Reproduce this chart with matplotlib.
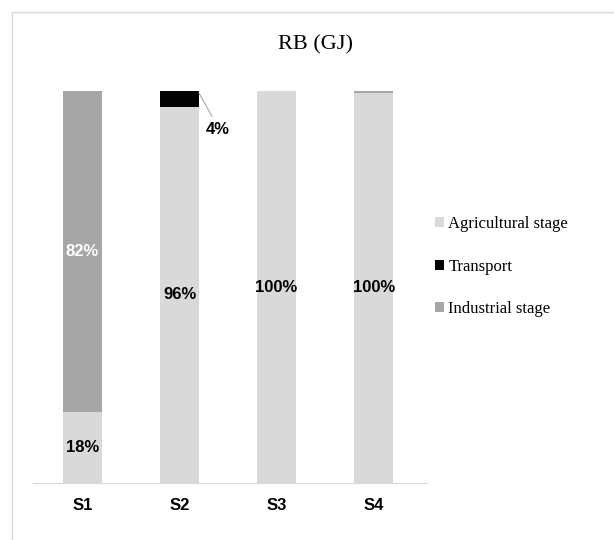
import matplotlib

matplotlib.use("Agg")
import matplotlib.pyplot as plt
from matplotlib.lines import Line2D

# stacked shares (%) per scenario
scenarios = ["S1", "S2", "S3", "S4"]
agricultural = [18, 96, 100, 99.6]
transport = [0, 4, 0, 0]
industrial = [82, 0, 0, 0.4]
label_agri = ["18%", "96%", "100%", "100%"]

C_AGRI = "#d9d9d9"
C_TRANS = "#000000"
C_IND = "#a6a6a6"

W, H = 614, 540
fig = plt.figure(figsize=(W / 100, H / 100), dpi=100)

# frame: only the top and left edges show in the crop
fig.lines.append(Line2D([12 / W, 12 / W, 1], [0, 1 - 12 / H, 1 - 12 / H],
                        transform=fig.transFigure, color="#d9d9d9", lw=1))

ax = fig.add_axes([33 / W, 57 / H, 394 / W, 392 / H])
x = list(range(len(scenarios)))
bw = 0.4
ax.bar(x, agricultural, bw, color=C_AGRI, label="Agricultural stage")
ax.bar(x, transport, bw, bottom=agricultural, color=C_TRANS, label="Transport")
bot2 = [a + t for a, t in zip(agricultural, transport)]
ax.bar(x, industrial, bw, bottom=bot2, color=C_IND, label="Industrial stage")

ax.set_xlim(-0.51, 3.55)
ax.set_ylim(0, 100)
for s in ["top", "left", "right"]:
    ax.spines[s].set_visible(False)
ax.spines["bottom"].set_color("#d9d9d9")
ax.set_yticks([])
ax.set_xticks(x)
ax.set_xticklabels(scenarios, fontsize=12, fontweight="bold", family="Liberation Sans")
ax.tick_params(axis="x", length=0, pad=11)

lab = dict(fontsize=12, fontweight="bold", family="Liberation Sans", ha="center", va="center")
# agricultural labels
ax.text(0, 9, label_agri[0], **lab)
ax.text(1, 48, label_agri[1], **lab)
ax.text(2, 50, label_agri[2], **lab)
ax.text(3, 50, label_agri[3], **lab)
# industrial S1
ax.text(0, 18 + 82 / 2, "82%", color="white", **lab)
# transport S2 with leader line
ax.annotate("", xy=(1 + bw / 2, 99.5), xytext=(1.335, 93.5),
            arrowprops=dict(arrowstyle="-", color="#a6a6a6", lw=0.8, shrinkA=0, shrinkB=0))
ax.text(1.395, 90.3, "4%", **lab)

fig.text(315 / W, 1 - 45 / H, "RB (GJ)", fontsize=16, family="Liberation Serif",
         ha="center", va="center")

leg = fig.legend(loc="upper left", bbox_to_anchor=(420 / W, 1 - 201 / H), frameon=False,
                 prop={"family": "Liberation Serif", "size": 12}, handlelength=0.55,
                 handleheight=0.55, handletextpad=0.25, labelspacing=1.6)

fig.savefig("out.png", dpi=100)
